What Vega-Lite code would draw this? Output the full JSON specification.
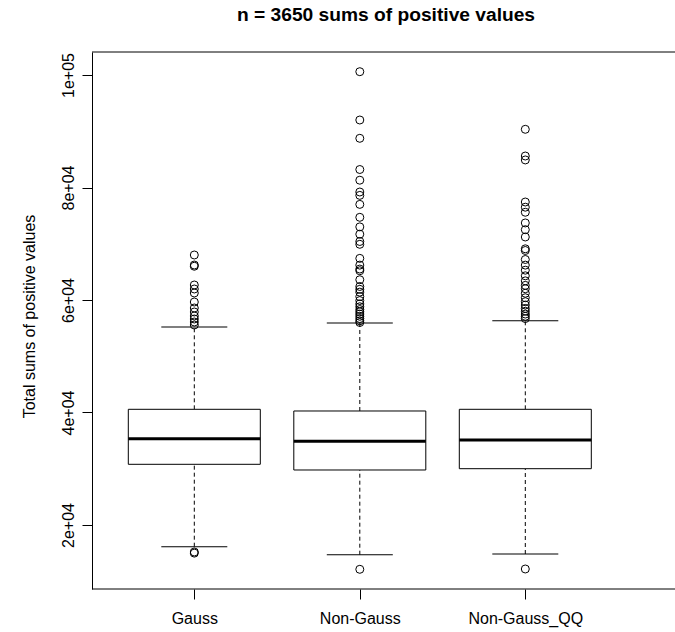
{
  "$schema": "https://vega.github.io/schema/vega-lite/v6.json",
  "autosize": {"type": "none"},
  "padding": {"left": 92, "top": 52, "right": 0, "bottom": 43},
  "width": 583,
  "height": 537,
  "background": "white",
  "config": {
    "font": "Liberation Sans",
    "view": {"stroke": null},
    "axis": {"grid": false, "labelColor": "black", "titleColor": "black", "tickColor": "black", "domainColor": "black", "labelFont": "Liberation Sans", "titleFont": "Liberation Sans"}
  },
  "title": {
    "text": "n = 3650 sums of positive values",
    "fontSize": 19.2,
    "fontWeight": "bold",
    "font": "Liberation Sans",
    "color": "black",
    "anchor": "middle",
    "frame": "group",
    "baseline": "alphabetic",
    "offset": 11,
    "dx": 2.5
  },
  "datasets": {
    "frame": [
      {"edge": "top", "value": 104089},
      {"edge": "bottom", "value": 8622}
    ],
    "stats": [
      {"group": "Gauss", "lower": 16143, "q1": 30791, "median": 35342, "q3": 40569, "upper": 55200},
      {"group": "Non-Gauss", "lower": 14720, "q1": 29778, "median": 34880, "q3": 40267, "upper": 55911},
      {"group": "Non-Gauss_QQ", "lower": 14844, "q1": 30009, "median": 35111, "q3": 40569, "upper": 56320}
    ],
    "out": [
      {"group": "Gauss", "value": 68000},
      {"group": "Gauss", "value": 66222},
      {"group": "Gauss", "value": 66000},
      {"group": "Gauss", "value": 62667},
      {"group": "Gauss", "value": 61956},
      {"group": "Gauss", "value": 61245},
      {"group": "Gauss", "value": 59644},
      {"group": "Gauss", "value": 58578},
      {"group": "Gauss", "value": 57867},
      {"group": "Gauss", "value": 57156},
      {"group": "Gauss", "value": 56622},
      {"group": "Gauss", "value": 56089},
      {"group": "Gauss", "value": 55556},
      {"group": "Gauss", "value": 15200},
      {"group": "Gauss", "value": 15000},
      {"group": "Non-Gauss", "value": 100587},
      {"group": "Non-Gauss", "value": 92000},
      {"group": "Non-Gauss", "value": 88747},
      {"group": "Non-Gauss", "value": 83200},
      {"group": "Non-Gauss", "value": 81300},
      {"group": "Non-Gauss", "value": 79200},
      {"group": "Non-Gauss", "value": 78600},
      {"group": "Non-Gauss", "value": 77000},
      {"group": "Non-Gauss", "value": 74700},
      {"group": "Non-Gauss", "value": 73000},
      {"group": "Non-Gauss", "value": 71700},
      {"group": "Non-Gauss", "value": 70400},
      {"group": "Non-Gauss", "value": 69900},
      {"group": "Non-Gauss", "value": 67400},
      {"group": "Non-Gauss", "value": 66200},
      {"group": "Non-Gauss", "value": 65500},
      {"group": "Non-Gauss", "value": 65200},
      {"group": "Non-Gauss", "value": 63600},
      {"group": "Non-Gauss", "value": 62400},
      {"group": "Non-Gauss", "value": 61900},
      {"group": "Non-Gauss", "value": 61400},
      {"group": "Non-Gauss", "value": 60600},
      {"group": "Non-Gauss", "value": 59900},
      {"group": "Non-Gauss", "value": 59300},
      {"group": "Non-Gauss", "value": 58800},
      {"group": "Non-Gauss", "value": 58300},
      {"group": "Non-Gauss", "value": 57900},
      {"group": "Non-Gauss", "value": 57500},
      {"group": "Non-Gauss", "value": 57100},
      {"group": "Non-Gauss", "value": 56700},
      {"group": "Non-Gauss", "value": 56300},
      {"group": "Non-Gauss", "value": 56000},
      {"group": "Non-Gauss", "value": 12124},
      {"group": "Non-Gauss_QQ", "value": 90347},
      {"group": "Non-Gauss_QQ", "value": 85600},
      {"group": "Non-Gauss_QQ", "value": 84900},
      {"group": "Non-Gauss_QQ", "value": 77422},
      {"group": "Non-Gauss_QQ", "value": 76500},
      {"group": "Non-Gauss_QQ", "value": 75600},
      {"group": "Non-Gauss_QQ", "value": 73700},
      {"group": "Non-Gauss_QQ", "value": 72500},
      {"group": "Non-Gauss_QQ", "value": 71200},
      {"group": "Non-Gauss_QQ", "value": 69100},
      {"group": "Non-Gauss_QQ", "value": 68800},
      {"group": "Non-Gauss_QQ", "value": 67200},
      {"group": "Non-Gauss_QQ", "value": 66200},
      {"group": "Non-Gauss_QQ", "value": 65300},
      {"group": "Non-Gauss_QQ", "value": 64300},
      {"group": "Non-Gauss_QQ", "value": 63400},
      {"group": "Non-Gauss_QQ", "value": 62600},
      {"group": "Non-Gauss_QQ", "value": 62000},
      {"group": "Non-Gauss_QQ", "value": 61200},
      {"group": "Non-Gauss_QQ", "value": 60400},
      {"group": "Non-Gauss_QQ", "value": 59700},
      {"group": "Non-Gauss_QQ", "value": 59100},
      {"group": "Non-Gauss_QQ", "value": 58500},
      {"group": "Non-Gauss_QQ", "value": 58000},
      {"group": "Non-Gauss_QQ", "value": 57500},
      {"group": "Non-Gauss_QQ", "value": 57100},
      {"group": "Non-Gauss_QQ", "value": 56700},
      {"group": "Non-Gauss_QQ", "value": 12178}
    ]
  },
  "layer": [
    {
      "data": {"name": "stats"},
      "mark": {"type": "rule", "color": "black", "strokeWidth": 1, "strokeDash": [4, 3]},
      "encoding": {
        "x": {
          "field": "group",
          "type": "nominal",
          "sort": ["Gauss", "Non-Gauss", "Non-Gauss_QQ"],
          "scale": {"type": "point", "range": [102.3, 433.3], "padding": 0},
          "axis": {
            "title": null,
            "domain": false,
            "tickSize": 10,
            "labelFontSize": 16,
            "labelAngle": 0,
            "labelBaseline": "top",
            "labelPadding": 11
          }
        },
        "y": {
          "field": "lower",
          "type": "quantitative",
          "scale": {"domain": [8622, 104089], "nice": false, "zero": false},
          "axis": {
            "title": "Total sums of positive values",
            "titleFontSize": 16,
            "titleFontWeight": "normal",
            "titleAngle": 270,
            "titleAlign": "center",
            "titleBaseline": "alphabetic",
            "titleX": -58,
            "titleY": 264,
            "domain": true,
            "values": [20000, 40000, 60000, 80000, 100000],
            "labelExpr": "datum.value == 100000 ? '1e+05' : format(datum.value / 10000, 'd') + 'e+04'",
            "tickSize": 10,
            "labelFontSize": 16,
            "labelAngle": 270,
            "labelAlign": "center",
            "labelBaseline": "alphabetic",
            "labelPadding": 9
          }
        },
        "y2": {"field": "q1"}
      }
    },
    {
      "data": {"name": "frame"},
      "mark": {"type": "rule", "color": "black", "strokeWidth": 1},
      "encoding": {"y": {"field": "value", "type": "quantitative"}}
    },
    {
      "data": {"name": "stats"},
      "mark": {"type": "rule", "color": "black", "strokeWidth": 1, "strokeDash": [4, 3]},
      "encoding": {
        "x": {"field": "group", "type": "nominal"},
        "y": {"field": "q3", "type": "quantitative"},
        "y2": {"field": "upper"}
      }
    },
    {
      "data": {"name": "stats"},
      "mark": {"type": "tick", "color": "black", "size": 66, "thickness": 1, "opacity": 1},
      "encoding": {
        "x": {"field": "group", "type": "nominal"},
        "y": {"field": "lower", "type": "quantitative"}
      }
    },
    {
      "data": {"name": "stats"},
      "mark": {"type": "tick", "color": "black", "size": 66, "thickness": 1, "opacity": 1},
      "encoding": {
        "x": {"field": "group", "type": "nominal"},
        "y": {"field": "upper", "type": "quantitative"}
      }
    },
    {
      "data": {"name": "stats"},
      "mark": {"type": "bar", "fill": "white", "stroke": "black", "strokeWidth": 1, "size": 132, "opacity": 1},
      "encoding": {
        "x": {"field": "group", "type": "nominal"},
        "y": {"field": "q1", "type": "quantitative"},
        "y2": {"field": "q3"}
      }
    },
    {
      "data": {"name": "stats"},
      "mark": {"type": "tick", "color": "black", "size": 132, "thickness": 3, "opacity": 1},
      "encoding": {
        "x": {"field": "group", "type": "nominal"},
        "y": {"field": "median", "type": "quantitative"}
      }
    },
    {
      "data": {"name": "out"},
      "mark": {"type": "point", "shape": "circle", "filled": false, "stroke": "black", "strokeWidth": 1, "size": 64, "opacity": 1},
      "encoding": {
        "x": {"field": "group", "type": "nominal"},
        "y": {"field": "value", "type": "quantitative"}
      }
    }
  ]
}
